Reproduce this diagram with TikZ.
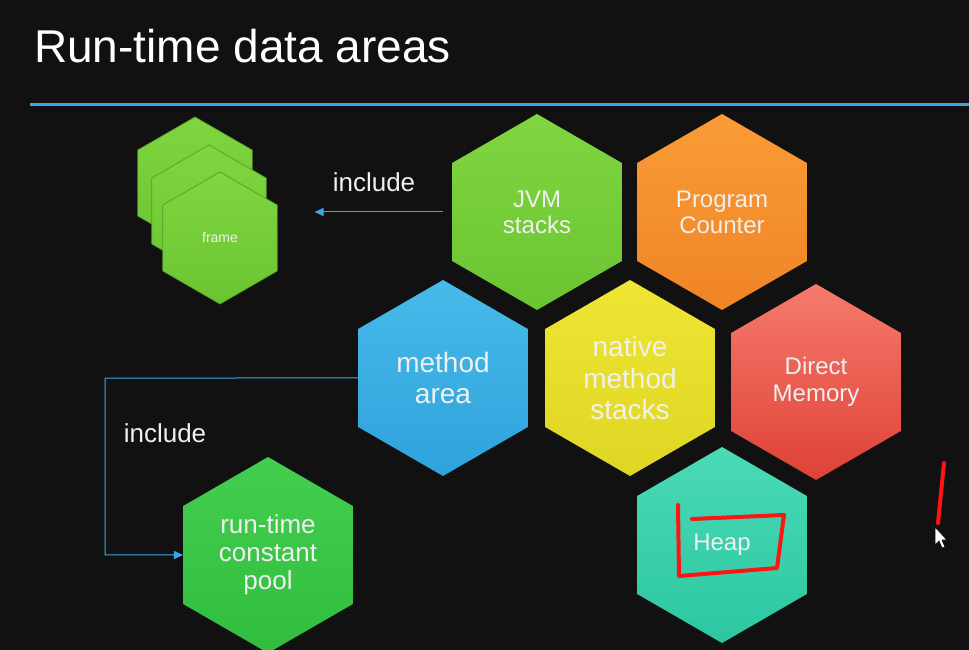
\documentclass[tikz,border=0pt]{standalone}
\usepackage{fontspec}
\setmainfont{Liberation Sans}
\usetikzlibrary{arrows.meta, positioning, shapes.geometric, calc}
\definecolor{rboard}{HTML}{111111}
\definecolor{rline}{HTML}{3AA8E2}
\definecolor{rlimetop}{HTML}{80D640}
\definecolor{rlimebot}{HTML}{6AC431}
\definecolor{rorangetop}{HTML}{F99C36}
\definecolor{rorangebot}{HTML}{F08426}
\definecolor{rbluetop}{HTML}{48BAEA}
\definecolor{rbluebot}{HTML}{2EA2DB}
\definecolor{ryellowtop}{HTML}{EEE633}
\definecolor{ryellowbot}{HTML}{DFD623}
\definecolor{rredtop}{HTML}{F57B6C}
\definecolor{rredbot}{HTML}{DF4136}
\definecolor{rtealtop}{HTML}{4BD9B7}
\definecolor{rtealbot}{HTML}{2BC7A1}
\definecolor{rgreentop}{HTML}{44CE50}
\definecolor{rgreenbot}{HTML}{30BD3D}
\definecolor{rmark}{HTML}{FF1414}
\tikzset{
  hexbox/.style={regular polygon, regular polygon sides=6, shape border rotate=30,
                 minimum size=196pt, inner sep=0pt, align=center, text=white!94!black,
                 font=\fontsize{24}{26}\selectfont},
  bighex/.style={hexbox, font=\fontsize{28}{31.5}\selectfont},
  incarr/.style={-{Triangle[length=9pt,width=8pt]}, rline, line width=1pt},
  inctext/.style={text=white!94!black, font=\fontsize{26}{28}\selectfont},
}

\begin{document}
\begin{tikzpicture}[x=1pt, y=-1pt]
  \tikzstyle{framebox} = [regular polygon, regular polygon sides=6, shape border rotate=30, minimum size=132pt, inner sep=0pt, top color=rlimetop, bottom color=rlimebot, draw=rlimebot!80!black, line width=0.7pt, text=white!94!black, font=\fontsize{14}{16}\selectfont]

  %% board
  \fill[rboard] (0,0) rectangle (969,650);
  \useasboundingbox (0,0) rectangle (969,650);
  \node[anchor=base west, inner sep=0pt, text=white, font=\fontsize{46}{50}\selectfont] (title) at (34,63) {Run-time data areas};
  \draw[rline, line width=3pt] (30,105) -- (969,105);

  %% frames
  \node[framebox] (frame1) at (195,183) {};
  \node[framebox] (frame2) at (209,211) {};
  \node[framebox] (frame3) at (220,238) {frame};

  %% Row 1
  \node[hexbox, top color=rlimetop, bottom color=rlimebot] (jvm) at (537,212) {JVM\\stacks};
  \node[hexbox, top color=rorangetop, bottom color=rorangebot] (pc) at (722,212) {Program\\Counter};
  %% Row 2
  \node[bighex, top color=rbluetop, bottom color=rbluebot] (method) at (443,378) {method\\area};
  \node[bighex, top color=ryellowtop, bottom color=ryellowbot] (native) at (630,378) {native\\method\\stacks};
  \node[hexbox, font=\fontsize{24}{27}\selectfont, top color=rredtop, bottom color=rredbot] (direct) at (816,382) {Direct\\Memory};
  %% Row 3
  \node[hexbox, top color=rtealtop, bottom color=rtealbot] (heap) at (722,545) {Heap};
  \node[hexbox, font=\fontsize{26}{28}\selectfont, top color=rgreentop, bottom color=rgreenbot] (pool) at (268,555) {run-time\\constant\\pool};

  %% include arrows
  \node[inctext] (inc1) at (374,182) {include};
  \draw[incarr, shorten <=9pt, shorten >=37pt] (jvm.west) -- (frame3.east |- jvm.west);
  \node[inctext] (inc2) at (165,433) {include};
  \coordinate (bend) at (105,378);
  \draw[incarr] (method.west) -- (bend) |- (pool.west);

  %% pen marks
  \draw[rmark, line width=4pt, line cap=round, line join=round] (678,505) -- (679,576) -- (777,568) -- (784,515) -- (692,519);
  \draw[rmark, line width=4pt, line cap=round] (944,463) -- (938,523);
  \draw[fill=white, draw=black, line width=0.6pt] (935,527) -- (935,545) -- (939,541) -- (942,548) -- (945,547) -- (942,540) -- (947,540) -- cycle;
\end{tikzpicture}
\end{document}
